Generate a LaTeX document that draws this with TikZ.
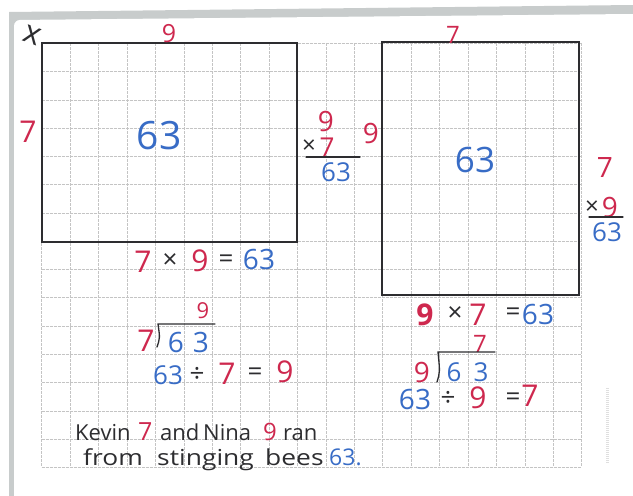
\documentclass[tikz,border=0pt]{standalone}
\usepackage{fontspec}
\newfontfamily\hand{Open Sans}
\definecolor{digred}{RGB}{206,40,78}
\definecolor{digblue}{RGB}{56,108,198}
\definecolor{ink}{RGB}{45,45,48}
\definecolor{gridgray}{RGB}{196,196,196}
\definecolor{sheetgray}{RGB}{200,204,204}

\begin{document}
\begin{tikzpicture}[
        x=1pt, y=-1pt,
        fig/.style={font=\hand\fontsize{#1}{#1}\selectfont, inner sep=0pt},
        rfig/.style={fig=#1, text=digred},
        bfig/.style={fig=#1, text=digblue},
        kfig/.style={fig=#1, text=ink},
        word/.style={kfig=22, anchor=base west},
        wideword/.style={word, xscale=1.2, transform shape},
        box/.style={draw=ink, line width=1.8pt},
        bar/.style={draw=ink, line width=1.3pt, line cap=round},
        gridline/.style={draw=gridgray, line width=0.6pt, dash pattern=on 3pt off 1pt}
    ]

    % Sheet and background
    \useasboundingbox (0,0) rectangle (633,496);
    \fill[white] (0,0) rectangle (633,496);
    \fill[sheetgray] (9,12) -- (633,5) -- (633,496) -- (9,496) -- cycle;
    \fill[white, rounded corners=6pt] (14,520) -- (14,20) -- (631,14) -- (640,14) -- (640,520) -- cycle;

    % Grid paper
    \foreach \k in {0,...,19}
        \draw[gridline] ({41.7+28.42*\k},43.3) -- ({41.7+28.42*\k},467.3);
    \foreach \j in {0,...,15}
        \draw[gridline] (41.7,{43.3+28.27*\j}) -- (581.7,{43.3+28.27*\j});

    % Arrays
    \draw[box] (41.7,43.3) rectangle (297,241.7);
    \draw[box] (381.7,42.3) rectangle (579.3,295);

    % === LEFT ARRAY — 7 rows, 9 columns ===
    \node[kfig=32, rotate=-20] (corner) at (32,35) {x};
    \node[rfig=25] (cols_l) at (169,34) {9};
    \node[rfig=30] (rows_l) at (28,132) {7};
    \node[bfig=39] (area_l) at (159,136) {63};

    % 9 x 7 written in column
    \node[rfig=28] (colmul_a) at (326,121) {9};
    \node[kfig=24] (colmul_x) at (309,147) {×};
    \node[rfig=26] (colmul_b) at (327,147) {7};
    \draw[bar] (306,157) -- (360,157);
    \node[bfig=26] (colmul_p) at (336,172) {63};

    % === RIGHT ARRAY — 9 rows, 7 columns ===
    \node[rfig=28] (rows_r) at (371,133) {9};
    \node[rfig=24] (cols_r) at (453,35) {7};
    \node[bfig=35] (area_r) at (475,160) {63};

    % 7 x 9 written in column
    \node[rfig=28] (colmul_c) at (605,168) {7};
    \node[kfig=24] (colmul_y) at (592,208) {×};
    \node[rfig=28] (colmul_d) at (610,207) {9};
    \draw[bar] (589,217) -- (623,217);
    \node[bfig=26] (colmul_q) at (607,232) {63};

    % === FACT FAMILY UNDER LEFT ARRAY ===
    \node[rfig=30] (eq1_a) at (143,262) {7};
    \node[kfig=26] (eq1_x) at (170,261) {×};
    \node[rfig=30] (eq1_b) at (200,261) {9};
    \node[kfig=26] (eq1_e) at (226,261) {=};
    \node[bfig=28] (eq1_p) at (259,259) {63};

    \node[rfig=22] (div1_q) at (203,311) {9};
    \draw[bar] (157,347) .. controls (160,338) .. (158,324) -- (215,324);
    \node[rfig=30] (div1_d) at (146,341) {7};
    \node[bfig=28] (div1_n6) at (176,342) {6};
    \node[bfig=28] (div1_n3) at (201,342) {3};

    \node[bfig=26] (eq2_p) at (168,375) {63};
    \node[kfig=26] (eq2_d) at (197,375) {÷};
    \node[rfig=30] (eq2_a) at (227,374) {7};
    \node[kfig=26] (eq2_e) at (255,374) {=};
    \node[rfig=30] (eq2_b) at (285,372) {9};

    % === FACT FAMILY UNDER RIGHT ARRAY ===
    \node[rfig=30] (eq3_a) at (425,315) {\bfseries 9};
    \node[kfig=26] (eq3_x) at (455,314) {×};
    \node[rfig=30] (eq3_b) at (478,315) {7};
    \node[kfig=26] (eq3_e) at (513,314) {=};
    \node[bfig=28] (eq3_p) at (538,314) {63};

    \node[rfig=24] (div2_q) at (480,344) {7};
    \draw[bar] (437,382) .. controls (440,372) .. (438,352) -- (495,352);
    \node[rfig=28] (div2_d) at (422,372) {9};
    \node[bfig=26] (div2_n6) at (454,372) {6};
    \node[bfig=26] (div2_n3) at (481,372) {3};

    \node[bfig=28] (eq4_p) at (415,399) {63};
    \node[kfig=26] (eq4_d) at (448,399) {÷};
    \node[rfig=30] (eq4_a) at (478,398) {9};
    \node[kfig=26] (eq4_e) at (513,399) {=};
    \node[rfig=30] (eq4_b) at (530,396) {7};

    % Story, word by word
    \node[word] (w_kevin) at (75,440) {Kevin};
    \node[word, rfig=25] (w_seven) at (138,440) {7};
    \node[word] (w_and) at (160,440) {and};
    \node[word] (w_nina) at (203,440) {Nina};
    \node[word, rfig=24] (w_nine) at (263,440) {9};
    \node[word] (w_ran) at (283,440) {ran};
    \node[wideword] (w_from) at (83,465) {from};
    \node[wideword] (w_sting) at (157,465) {stinging};
    \node[wideword] (w_bees) at (265,465) {bees};
    \node[word, bfig=23] (w_bees_n) at (329,465) {63.};

    % faint margin mark
    \draw[gray!25, line width=3pt, dash pattern=on 1pt off 1pt] (607,388) -- (607,463);

\end{tikzpicture}
\end{document}
